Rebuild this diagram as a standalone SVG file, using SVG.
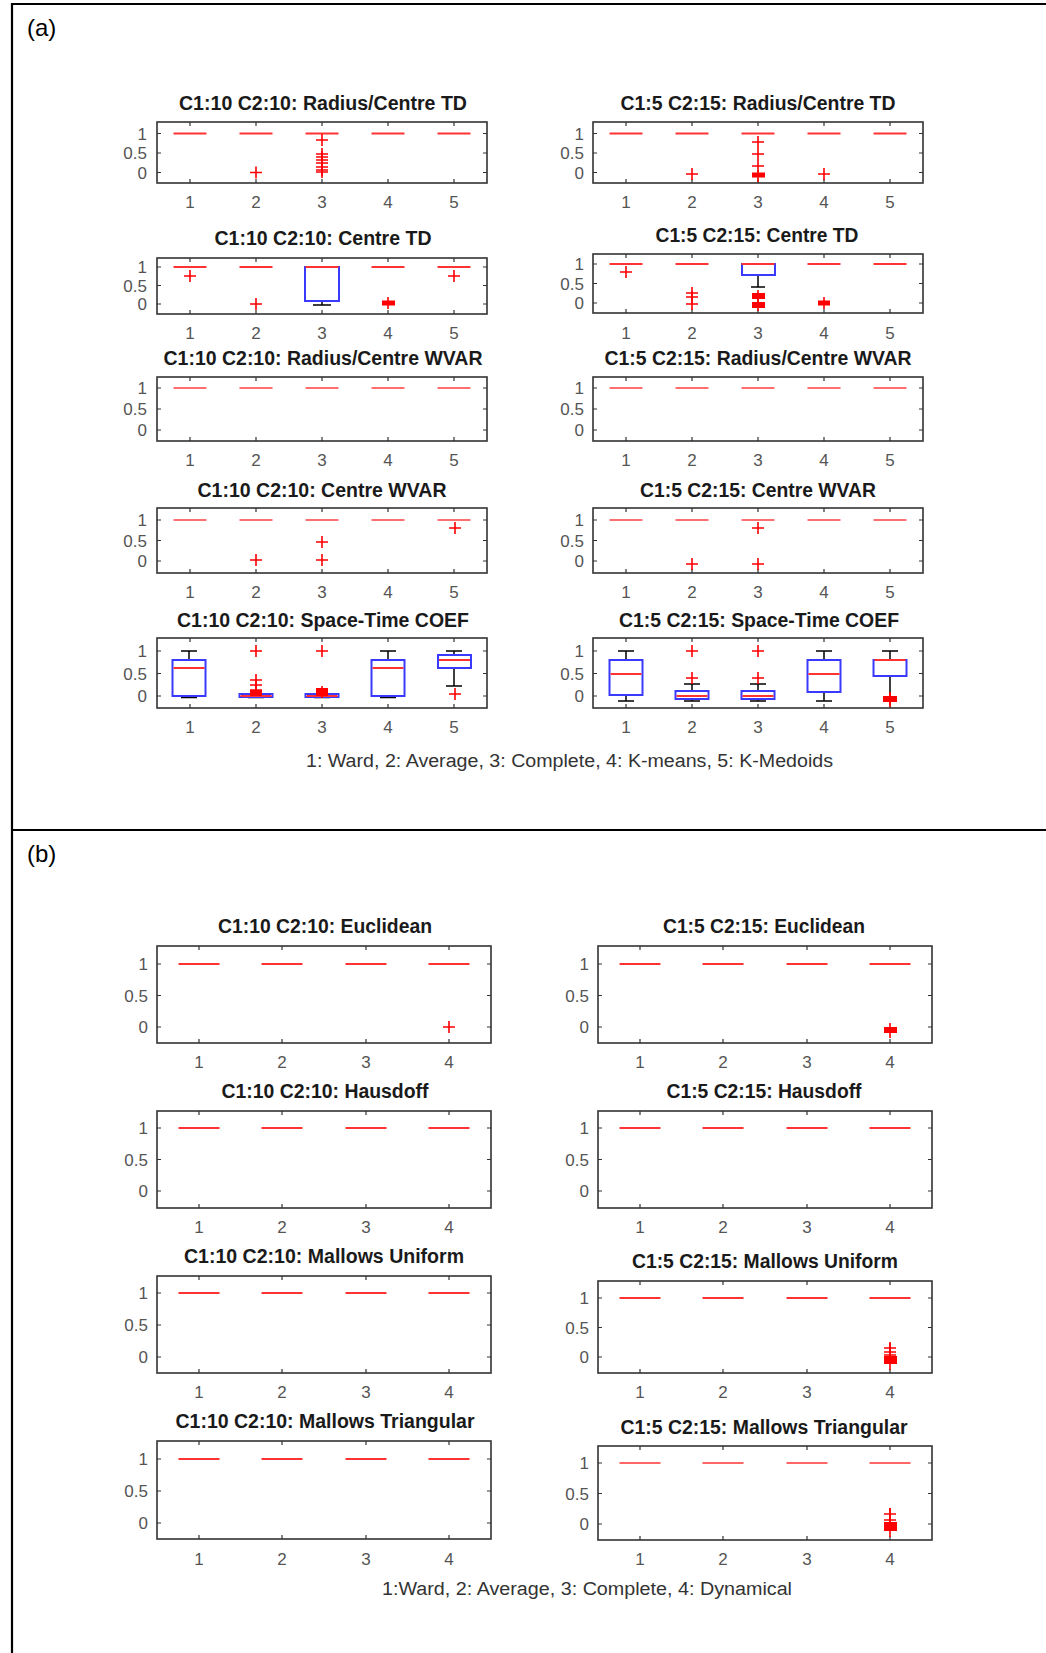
<svg xmlns="http://www.w3.org/2000/svg" xmlns:xlink="http://www.w3.org/1999/xlink" width="1046" height="1653" viewBox="0 0 1046 1653">
<style>
.ax{fill:none;stroke:#333;stroke-width:1.6}
.tk{fill:none;stroke:#333;stroke-width:1.2}
.md{stroke:#ff3333;stroke-width:2.2}
.bx{fill:none;stroke:#3a3aff;stroke-width:2}
.wk{fill:none;stroke:#000;stroke-width:1.5}
.ol{stroke:#ff0000;stroke-width:1.6;fill:none}
.bl{fill:#ff0000}
.tt{font-family:"Liberation Sans",Arial,sans-serif;font-weight:bold;font-size:19.5px;fill:#1a1a1a;text-anchor:middle}
.yl{font-family:"Liberation Sans",Arial,sans-serif;font-size:17px;fill:#555;text-anchor:end}
.xl{font-family:"Liberation Sans",Arial,sans-serif;font-size:17px;fill:#555;text-anchor:middle}
.ft{font-family:"Liberation Sans",Arial,sans-serif;font-size:18px;fill:#333}
.pl{font-family:"Liberation Sans",Arial,sans-serif;font-size:24px;fill:#000}
.fr{fill:none;stroke:#000;stroke-width:2.2}
</style>
<defs>
<path id="o" d="M-6 0H6M0-6V6"/>
</defs>
<rect x="0" y="0" width="1046" height="1653" fill="#fff"/>
<g id="frame">
<path class="fr" d="M12 1653V4H1046M12 830H1046"/>
<text class="pl" x="27" y="36">(a)</text>
<text class="pl" x="27" y="862">(b)</text>
</g>

<!-- ===== (a) row 1 ===== -->
<g id="aL1">
<text class="tt" x="323" y="110" textLength="288" lengthAdjust="spacingAndGlyphs">C1:10 C2:10: Radius/Centre TD</text>
<rect class="ax" x="157" y="122" width="330" height="61"/>
<path class="tk" d="M190 183v-4M256 183v-4M322 183v-4M388 183v-4M454 183v-4M190 122v4M256 122v4M322 122v4M388 122v4M454 122v4M157 172.5h4M157 153h4M157 133.5h4M487 172.5h-4M487 153h-4M487 133.5h-4"/>
<text class="yl" x="147" y="139.5">1</text><text class="yl" x="147" y="159">0.5</text><text class="yl" x="147" y="178.5">0</text>
<text class="xl" x="190" y="208">1</text><text class="xl" x="256" y="208">2</text><text class="xl" x="322" y="208">3</text><text class="xl" x="388" y="208">4</text><text class="xl" x="454" y="208">5</text>
<path class="md" d="M173.5 133.5h33M239.5 133.5h33M305.5 133.5h33M371.5 133.5h33M437.5 133.5h33"/>
<g class="ol"><use href="#o" x="256" y="172.5"/><use href="#o" x="322" y="140"/><use href="#o" x="322" y="154"/><use href="#o" x="322" y="157"/><use href="#o" x="322" y="160"/><use href="#o" x="322" y="163"/><use href="#o" x="322" y="167"/><use href="#o" x="322" y="170"/><use href="#o" x="322" y="172"/></g>
</g>
<g id="aR1">
<text class="tt" x="758" y="110" textLength="275" lengthAdjust="spacingAndGlyphs">C1:5 C2:15: Radius/Centre TD</text>
<rect class="ax" x="593" y="122" width="330" height="61"/>
<path class="tk" d="M626 183v-4M692 183v-4M758 183v-4M824 183v-4M890 183v-4M626 122v4M692 122v4M758 122v4M824 122v4M890 122v4M593 172.5h4M593 153h4M593 133.5h4M923 172.5h-4M923 153h-4M923 133.5h-4"/>
<text class="yl" x="584" y="139.5">1</text><text class="yl" x="584" y="159">0.5</text><text class="yl" x="584" y="178.5">0</text>
<text class="xl" x="626" y="208">1</text><text class="xl" x="692" y="208">2</text><text class="xl" x="758" y="208">3</text><text class="xl" x="824" y="208">4</text><text class="xl" x="890" y="208">5</text>
<path class="md" d="M609.5 133.5h33M675.5 133.5h33M741.5 133.5h33M807.5 133.5h33M873.5 133.5h33"/>
<rect class="bl" x="752" y="172.5" width="13" height="5"/>
<g class="ol"><use href="#o" x="692" y="174"/><use href="#o" x="758" y="142"/><use href="#o" x="758" y="154"/><use href="#o" x="758" y="166"/><use href="#o" x="758" y="176"/><use href="#o" x="824" y="174"/></g>
</g>

<!-- ===== (a) row 2 ===== -->
<g id="aL2">
<text class="tt" x="323" y="245" textLength="217" lengthAdjust="spacingAndGlyphs">C1:10 C2:10: Centre TD</text>
<rect class="ax" x="157" y="258" width="330" height="56"/>
<path class="tk" d="M190 314v-4M256 314v-4M322 314v-4M388 314v-4M454 314v-4M190 258v4M256 258v4M322 258v4M388 258v4M454 258v4M157 304h4M157 285.5h4M157 267h4M487 304h-4M487 285.5h-4M487 267h-4"/>
<text class="yl" x="147" y="273">1</text><text class="yl" x="147" y="291.5">0.5</text><text class="yl" x="147" y="310">0</text>
<text class="xl" x="190" y="339">1</text><text class="xl" x="256" y="339">2</text><text class="xl" x="322" y="339">3</text><text class="xl" x="388" y="339">4</text><text class="xl" x="454" y="339">5</text>
<path class="wk" d="M322 301V305M313 305H331"/>
<rect class="bx" x="305" y="267" width="34" height="34"/>
<path class="md" d="M173.5 267h33M239.5 267h33M305.5 267h33M371.5 267h33M437.5 267h33"/>
<rect class="bl" x="382" y="300.5" width="13" height="5"/>
<g class="ol"><use href="#o" x="190" y="276"/><use href="#o" x="256" y="304"/><use href="#o" x="388" y="303"/><use href="#o" x="454" y="276"/></g>
</g>
<g id="aR2">
<text class="tt" x="757" y="242" textLength="203" lengthAdjust="spacingAndGlyphs">C1:5 C2:15: Centre TD</text>
<rect class="ax" x="593" y="254" width="330" height="59"/>
<path class="tk" d="M626 313v-4M692 313v-4M758 313v-4M824 313v-4M890 313v-4M626 254v4M692 254v4M758 254v4M824 254v4M890 254v4M593 303h4M593 283.5h4M593 264h4M923 303h-4M923 283.5h-4M923 264h-4"/>
<text class="yl" x="584" y="270">1</text><text class="yl" x="584" y="289.5">0.5</text><text class="yl" x="584" y="309">0</text>
<text class="xl" x="626" y="339">1</text><text class="xl" x="692" y="339">2</text><text class="xl" x="758" y="339">3</text><text class="xl" x="824" y="339">4</text><text class="xl" x="890" y="339">5</text>
<path class="wk" d="M758 275V287M751 287H765"/>
<rect class="bx" x="742" y="264" width="33" height="11"/>
<path class="md" d="M609.5 264h33M675.5 264h33M741.5 264h33M807.5 264h33M873.5 264h33"/>
<rect class="bl" x="752" y="293" width="13" height="6"/>
<rect class="bl" x="752" y="302" width="13" height="6"/>
<rect class="bl" x="818" y="300.5" width="12" height="5"/>
<g class="ol"><use href="#o" x="626" y="272"/><use href="#o" x="692" y="293"/><use href="#o" x="692" y="297"/><use href="#o" x="692" y="304"/><use href="#o" x="758" y="296"/><use href="#o" x="758" y="305"/><use href="#o" x="824" y="303"/></g>
</g>

<!-- ===== (a) row 3 ===== -->
<g id="aL3">
<text class="tt" x="323" y="365" textLength="319" lengthAdjust="spacingAndGlyphs">C1:10 C2:10: Radius/Centre WVAR</text>
<rect class="ax" x="157" y="377" width="330" height="64"/>
<path class="tk" d="M190 441v-4M256 441v-4M322 441v-4M388 441v-4M454 441v-4M190 377v4M256 377v4M322 377v4M388 377v4M454 377v4M157 430h4M157 409h4M157 388h4M487 430h-4M487 409h-4M487 388h-4"/>
<text class="yl" x="147" y="394">1</text><text class="yl" x="147" y="415">0.5</text><text class="yl" x="147" y="436">0</text>
<text class="xl" x="190" y="466">1</text><text class="xl" x="256" y="466">2</text><text class="xl" x="322" y="466">3</text><text class="xl" x="388" y="466">4</text><text class="xl" x="454" y="466">5</text>
<path class="md" opacity="0.7" d="M173.5 388h33M239.5 388h33M305.5 388h33M371.5 388h33M437.5 388h33"/>
</g>
<g id="aR3">
<text class="tt" x="758" y="365" textLength="307" lengthAdjust="spacingAndGlyphs">C1:5 C2:15: Radius/Centre WVAR</text>
<rect class="ax" x="593" y="377" width="330" height="64"/>
<path class="tk" d="M626 441v-4M692 441v-4M758 441v-4M824 441v-4M890 441v-4M626 377v4M692 377v4M758 377v4M824 377v4M890 377v4M593 430h4M593 409h4M593 388h4M923 430h-4M923 409h-4M923 388h-4"/>
<text class="yl" x="584" y="394">1</text><text class="yl" x="584" y="415">0.5</text><text class="yl" x="584" y="436">0</text>
<text class="xl" x="626" y="466">1</text><text class="xl" x="692" y="466">2</text><text class="xl" x="758" y="466">3</text><text class="xl" x="824" y="466">4</text><text class="xl" x="890" y="466">5</text>
<path class="md" opacity="0.7" d="M609.5 388h33M675.5 388h33M741.5 388h33M807.5 388h33M873.5 388h33"/>
</g>

<!-- ===== (a) row 4 ===== -->
<g id="aL4">
<text class="tt" x="322" y="497" textLength="249" lengthAdjust="spacingAndGlyphs">C1:10 C2:10: Centre WVAR</text>
<rect class="ax" x="157" y="508" width="330" height="65"/>
<path class="tk" d="M190 573v-4M256 573v-4M322 573v-4M388 573v-4M454 573v-4M190 508v4M256 508v4M322 508v4M388 508v4M454 508v4M157 561h4M157 540.5h4M157 520h4M487 561h-4M487 540.5h-4M487 520h-4"/>
<text class="yl" x="147" y="526">1</text><text class="yl" x="147" y="546.5">0.5</text><text class="yl" x="147" y="567">0</text>
<text class="xl" x="190" y="598">1</text><text class="xl" x="256" y="598">2</text><text class="xl" x="322" y="598">3</text><text class="xl" x="388" y="598">4</text><text class="xl" x="454" y="598">5</text>
<path class="md" opacity="0.7" d="M173.5 520h33M239.5 520h33M305.5 520h33M371.5 520h33M437.5 520h33"/>
<g class="ol"><use href="#o" x="256" y="560"/><use href="#o" x="322" y="542"/><use href="#o" x="322" y="560"/><use href="#o" x="455" y="528"/></g>
</g>
<g id="aR4">
<text class="tt" x="758" y="497" textLength="236" lengthAdjust="spacingAndGlyphs">C1:5 C2:15: Centre WVAR</text>
<rect class="ax" x="593" y="508" width="330" height="65"/>
<path class="tk" d="M626 573v-4M692 573v-4M758 573v-4M824 573v-4M890 573v-4M626 508v4M692 508v4M758 508v4M824 508v4M890 508v4M593 561h4M593 540.5h4M593 520h4M923 561h-4M923 540.5h-4M923 520h-4"/>
<text class="yl" x="584" y="526">1</text><text class="yl" x="584" y="546.5">0.5</text><text class="yl" x="584" y="567">0</text>
<text class="xl" x="626" y="598">1</text><text class="xl" x="692" y="598">2</text><text class="xl" x="758" y="598">3</text><text class="xl" x="824" y="598">4</text><text class="xl" x="890" y="598">5</text>
<path class="md" opacity="0.7" d="M609.5 520h33M675.5 520h33M741.5 520h33M807.5 520h33M873.5 520h33"/>
<g class="ol"><use href="#o" x="758" y="528"/><use href="#o" x="692" y="564"/><use href="#o" x="758" y="564"/></g>
</g>

<!-- ===== (a) row 5 ===== -->
<g id="aL5">
<text class="tt" x="323" y="627" textLength="292" lengthAdjust="spacingAndGlyphs">C1:10 C2:10: Space-Time COEF</text>
<rect class="ax" x="157" y="638" width="330" height="70"/>
<path class="tk" d="M190 708v-4M256 708v-4M322 708v-4M388 708v-4M454 708v-4M190 638v4M256 638v4M322 638v4M388 638v4M454 638v4M157 696h4M157 673.5h4M157 651h4M487 696h-4M487 673.5h-4M487 651h-4"/>
<text class="yl" x="147" y="657">1</text><text class="yl" x="147" y="679.5">0.5</text><text class="yl" x="147" y="702">0</text>
<text class="xl" x="190" y="733">1</text><text class="xl" x="256" y="733">2</text><text class="xl" x="322" y="733">3</text><text class="xl" x="388" y="733">4</text><text class="xl" x="454" y="733">5</text>
<path class="wk" d="M189 651V660M181 651H197M189 696V697.5M181 697.5H197M388 651V660M380 651H396M388 696V697.5M380 697.5H396M454 651V655M446 651H462M454 668V686M446 686H462M248 697.5H264M314 697.5H330"/>
<rect class="bx" x="172.5" y="660" width="33" height="36"/>
<rect class="bx" x="371.5" y="660" width="33" height="36"/>
<rect class="bx" x="438" y="655" width="33" height="13"/>
<rect class="bx" x="239.5" y="694" width="33" height="3"/>
<rect class="bx" x="305.5" y="694" width="33" height="3"/>
<path class="md" d="M173.5 668h31M372.5 668h31M439 660h31M240.5 696h31M306.5 696h31"/>
<rect class="bl" x="250" y="690" width="12" height="6"/>
<rect class="bl" x="316" y="688" width="12" height="8"/>
<g class="ol"><use href="#o" x="256" y="651"/><use href="#o" x="256" y="680"/><use href="#o" x="256" y="685"/><use href="#o" x="256" y="690"/><use href="#o" x="322" y="651"/><use href="#o" x="322" y="692"/><use href="#o" x="455" y="694"/></g>
</g>
<g id="aR5">
<text class="tt" x="759" y="627" textLength="280" lengthAdjust="spacingAndGlyphs">C1:5 C2:15: Space-Time COEF</text>
<rect class="ax" x="593" y="638" width="330" height="70"/>
<path class="tk" d="M626 708v-4M692 708v-4M758 708v-4M824 708v-4M890 708v-4M626 638v4M692 638v4M758 638v4M824 638v4M890 638v4M593 696h4M593 673.5h4M593 651h4M923 696h-4M923 673.5h-4M923 651h-4"/>
<text class="yl" x="584" y="657">1</text><text class="yl" x="584" y="679.5">0.5</text><text class="yl" x="584" y="702">0</text>
<text class="xl" x="626" y="733">1</text><text class="xl" x="692" y="733">2</text><text class="xl" x="758" y="733">3</text><text class="xl" x="824" y="733">4</text><text class="xl" x="890" y="733">5</text>
<path class="wk" d="M626 651V660M618 651H634M626 695V701M618 701H634M692 691V684M684 684H700M692 699V701M684 701H700M758 691V684M750 684H766M758 699V701M750 701H766M824 651V660M816 651H832M824 692V701M816 701H832M890 651V660M882 651H898M890 676V695"/>
<rect class="bx" x="609.5" y="660" width="33" height="35"/>
<rect class="bx" x="675.5" y="691" width="33" height="8"/>
<rect class="bx" x="741.5" y="691" width="33" height="8"/>
<rect class="bx" x="807.5" y="660" width="33" height="32"/>
<rect class="bx" x="873.5" y="660" width="33" height="16"/>
<path class="md" d="M610.5 674h31M676.5 696h31M742.5 696h31M808.5 674h31M874.5 660h31"/>
<rect class="bl" x="883" y="696" width="14" height="6"/>
<g class="ol"><use href="#o" x="692" y="651"/><use href="#o" x="692" y="678"/><use href="#o" x="758" y="651"/><use href="#o" x="758" y="678"/><use href="#o" x="890" y="699"/><path d="M890 692V707"/></g>
</g>
<text class="ft" x="306" y="767" textLength="527" lengthAdjust="spacingAndGlyphs">1: Ward, 2: Average, 3: Complete, 4: K-means, 5: K-Medoids</text>

<!-- ===== (b) row 1 ===== -->
<g id="bL1">
<text class="tt" x="325" y="933" textLength="214" lengthAdjust="spacingAndGlyphs">C1:10 C2:10: Euclidean</text>
<rect class="ax" x="157" y="946" width="334" height="97"/>
<path class="tk" d="M199 1043v-4M282 1043v-4M366 1043v-4M449 1043v-4M199 946v4M282 946v4M366 946v4M449 946v4M157 1027h4M157 995.5h4M157 964h4M491 1027h-4M491 995.5h-4M491 964h-4"/>
<text class="yl" x="148" y="970">1</text><text class="yl" x="148" y="1001.5">0.5</text><text class="yl" x="148" y="1033">0</text>
<text class="xl" x="199" y="1068">1</text><text class="xl" x="282" y="1068">2</text><text class="xl" x="366" y="1068">3</text><text class="xl" x="449" y="1068">4</text>
<path class="md" d="M178.5 964h41M261.5 964h41M345.5 964h41M428.5 964h41"/>
<g class="ol" stroke-width="2"><use href="#o" x="449" y="1027"/></g>
</g>
<g id="bR1">
<text class="tt" x="764" y="933" textLength="202" lengthAdjust="spacingAndGlyphs">C1:5 C2:15: Euclidean</text>
<rect class="ax" x="598" y="946" width="334" height="97"/>
<path class="tk" d="M640 1043v-4M723 1043v-4M807 1043v-4M890 1043v-4M640 946v4M723 946v4M807 946v4M890 946v4M598 1027h4M598 995.5h4M598 964h4M932 1027h-4M932 995.5h-4M932 964h-4"/>
<text class="yl" x="589" y="970">1</text><text class="yl" x="589" y="1001.5">0.5</text><text class="yl" x="589" y="1033">0</text>
<text class="xl" x="640" y="1068">1</text><text class="xl" x="723" y="1068">2</text><text class="xl" x="807" y="1068">3</text><text class="xl" x="890" y="1068">4</text>
<path class="md" d="M619.5 964h41M702.5 964h41M786.5 964h41M869.5 964h41"/>
<rect class="bl" x="884" y="1027" width="13" height="6"/>
<g class="ol"><path d="M890 1023V1038"/></g>
</g>

<!-- ===== (b) row 2 ===== -->
<g id="bL2">
<text class="tt" x="325" y="1098" textLength="207" lengthAdjust="spacingAndGlyphs">C1:10 C2:10: Hausdoff</text>
<rect class="ax" x="157" y="1111" width="334" height="97"/>
<path class="tk" d="M199 1208v-4M282 1208v-4M366 1208v-4M449 1208v-4M199 1111v4M282 1111v4M366 1111v4M449 1111v4M157 1191h4M157 1159.5h4M157 1128h4M491 1191h-4M491 1159.5h-4M491 1128h-4"/>
<text class="yl" x="148" y="1134">1</text><text class="yl" x="148" y="1165.5">0.5</text><text class="yl" x="148" y="1197">0</text>
<text class="xl" x="199" y="1233">1</text><text class="xl" x="282" y="1233">2</text><text class="xl" x="366" y="1233">3</text><text class="xl" x="449" y="1233">4</text>
<path class="md" d="M178.5 1128h41M261.5 1128h41M345.5 1128h41M428.5 1128h41"/>
</g>
<g id="bR2">
<text class="tt" x="764" y="1098" textLength="195" lengthAdjust="spacingAndGlyphs">C1:5 C2:15: Hausdoff</text>
<rect class="ax" x="598" y="1111" width="334" height="97"/>
<path class="tk" d="M640 1208v-4M723 1208v-4M807 1208v-4M890 1208v-4M640 1111v4M723 1111v4M807 1111v4M890 1111v4M598 1191h4M598 1159.5h4M598 1128h4M932 1191h-4M932 1159.5h-4M932 1128h-4"/>
<text class="yl" x="589" y="1134">1</text><text class="yl" x="589" y="1165.5">0.5</text><text class="yl" x="589" y="1197">0</text>
<text class="xl" x="640" y="1233">1</text><text class="xl" x="723" y="1233">2</text><text class="xl" x="807" y="1233">3</text><text class="xl" x="890" y="1233">4</text>
<path class="md" d="M619.5 1128h41M702.5 1128h41M786.5 1128h41M869.5 1128h41"/>
</g>

<!-- ===== (b) row 3 ===== -->
<g id="bL3">
<text class="tt" x="324" y="1263" textLength="280" lengthAdjust="spacingAndGlyphs">C1:10 C2:10: Mallows Uniform</text>
<rect class="ax" x="157" y="1276" width="334" height="97"/>
<path class="tk" d="M199 1373v-4M282 1373v-4M366 1373v-4M449 1373v-4M199 1276v4M282 1276v4M366 1276v4M449 1276v4M157 1357h4M157 1325h4M157 1293h4M491 1357h-4M491 1325h-4M491 1293h-4"/>
<text class="yl" x="148" y="1299">1</text><text class="yl" x="148" y="1331">0.5</text><text class="yl" x="148" y="1363">0</text>
<text class="xl" x="199" y="1398">1</text><text class="xl" x="282" y="1398">2</text><text class="xl" x="366" y="1398">3</text><text class="xl" x="449" y="1398">4</text>
<path class="md" d="M178.5 1293h41M261.5 1293h41M345.5 1293h41M428.5 1293h41"/>
</g>
<g id="bR3">
<text class="tt" x="765" y="1268" textLength="266" lengthAdjust="spacingAndGlyphs">C1:5 C2:15: Mallows Uniform</text>
<rect class="ax" x="598" y="1281" width="334" height="92"/>
<path class="tk" d="M640 1373v-4M723 1373v-4M807 1373v-4M890 1373v-4M640 1281v4M723 1281v4M807 1281v4M890 1281v4M598 1357h4M598 1327.5h4M598 1298h4M932 1357h-4M932 1327.5h-4M932 1298h-4"/>
<text class="yl" x="589" y="1304">1</text><text class="yl" x="589" y="1333.5">0.5</text><text class="yl" x="589" y="1363">0</text>
<text class="xl" x="640" y="1398">1</text><text class="xl" x="723" y="1398">2</text><text class="xl" x="807" y="1398">3</text><text class="xl" x="890" y="1398">4</text>
<path class="md" d="M619.5 1298h41M702.5 1298h41M786.5 1298h41M869.5 1298h41"/>
<rect class="bl" x="884" y="1356" width="13" height="8"/>
<g class="ol"><use href="#o" x="890" y="1348"/><use href="#o" x="890" y="1352"/><use href="#o" x="890" y="1355"/><path d="M890 1343V1370"/></g>
</g>

<!-- ===== (b) row 4 ===== -->
<g id="bL4">
<text class="tt" x="325" y="1428" textLength="299" lengthAdjust="spacingAndGlyphs">C1:10 C2:10: Mallows Triangular</text>
<rect class="ax" x="157" y="1441" width="334" height="98"/>
<path class="tk" d="M199 1539v-4M282 1539v-4M366 1539v-4M449 1539v-4M199 1441v4M282 1441v4M366 1441v4M449 1441v4M157 1523h4M157 1491h4M157 1459h4M491 1523h-4M491 1491h-4M491 1459h-4"/>
<text class="yl" x="148" y="1465">1</text><text class="yl" x="148" y="1497">0.5</text><text class="yl" x="148" y="1529">0</text>
<text class="xl" x="199" y="1565">1</text><text class="xl" x="282" y="1565">2</text><text class="xl" x="366" y="1565">3</text><text class="xl" x="449" y="1565">4</text>
<path class="md" d="M178.5 1459h41M261.5 1459h41M345.5 1459h41M428.5 1459h41"/>
</g>
<g id="bR4">
<text class="tt" x="764" y="1434" textLength="287" lengthAdjust="spacingAndGlyphs">C1:5 C2:15: Mallows Triangular</text>
<rect class="ax" x="598" y="1446" width="334" height="94"/>
<path class="tk" d="M640 1540v-4M723 1540v-4M807 1540v-4M890 1540v-4M640 1446v4M723 1446v4M807 1446v4M890 1446v4M598 1524h4M598 1493.5h4M598 1463h4M932 1524h-4M932 1493.5h-4M932 1463h-4"/>
<text class="yl" x="589" y="1469">1</text><text class="yl" x="589" y="1499.5">0.5</text><text class="yl" x="589" y="1530">0</text>
<text class="xl" x="640" y="1565">1</text><text class="xl" x="723" y="1565">2</text><text class="xl" x="807" y="1565">3</text><text class="xl" x="890" y="1565">4</text>
<path class="md" opacity="0.75" d="M619.5 1463h41M702.5 1463h41M786.5 1463h41M869.5 1463h41"/>
<rect class="bl" x="884" y="1522" width="13" height="9"/>
<g class="ol"><use href="#o" x="890" y="1514"/><use href="#o" x="890" y="1520"/><path d="M890 1508V1537"/></g>
</g>
<text class="ft" x="382" y="1595" textLength="410" lengthAdjust="spacingAndGlyphs">1:Ward, 2: Average, 3: Complete, 4: Dynamical</text>
</svg>
